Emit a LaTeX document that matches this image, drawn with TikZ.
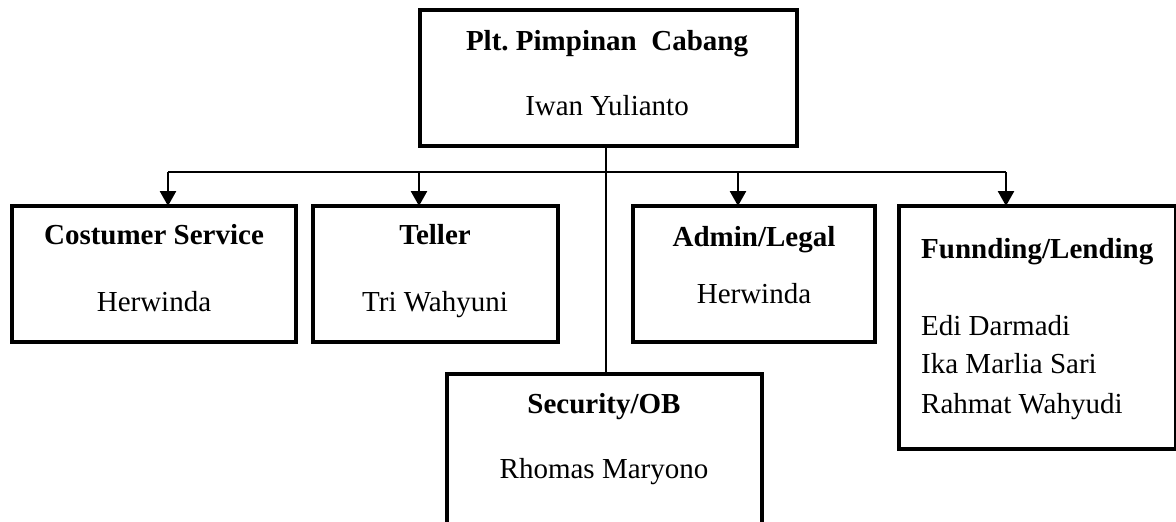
\documentclass[tikz,border=0pt]{standalone}
\usepackage{fontspec}
\setmainfont{Liberation Serif}
\usepackage{tikz}
\usetikzlibrary{arrows.meta}
\tikzstyle{unit}=[draw,rectangle,line width=3.5pt,anchor=north west,outer sep=0pt,inner sep=0pt]
\tikzstyle{ttl}=[font=\fontsize{29}{35}\selectfont\bfseries,text height=19pt,text depth=0pt,inner sep=0pt]
\tikzstyle{who}=[font=\fontsize{29}{35}\selectfont,text height=19pt,text depth=0pt,inner sep=0pt]
\tikzstyle{feed}=[-{Triangle[width=16pt,length=15pt]},line width=2.6pt]
\tikzstyle{bus}=[line width=1.3pt]

\begin{document}
\begin{tikzpicture}[x=1pt,y=-1pt]
  \clip (0,0) rectangle (1176,522);
  \fill[white] (0,0) rectangle (1176,522);
  % boxes
  \foreach \place/\boxw/\boxh/\name in {{(420,10)/377pt/136pt/pimpinan},
                                        {(12,206)/284pt/136pt/cs},
                                        {(313,206)/245pt/136pt/teller},
                                        {(633,206)/242pt/136pt/admin},
                                        {(899,206)/277pt/243pt/funding},
                                        {(447,374)/315pt/200pt/security}}
    \node[unit,minimum width=\boxw,minimum height=\boxh] (\name) at \place {};
  % titles and names
  \foreach \place/\txt/\name in {{(607,41)/Plt.\ Pimpinan~~Cabang/pimpinan-t},
                                 {(154,235)/Costumer Service/cs-t},
                                 {(435,235)/Teller/teller-t},
                                 {(754,237)/{Admin/Legal}/admin-t},
                                 {(604,404)/{Security/OB}/security-t}}
    \node[ttl] (\name) at \place {\txt};
  \foreach \place/\txt/\name in {{(607,106)/Iwan Yulianto/pimpinan-n},
                                 {(154,302)/Herwinda/cs-n},
                                 {(435,302)/Tri Wahyuni/teller-n},
                                 {(754,294)/Herwinda/admin-n},
                                 {(604,469)/Rhomas Maryono/security-n}}
    \node[who] (\name) at \place {\txt};
  \node[ttl,anchor=west] (funding-t) at (921,249) {Funnding/Lending};
  \foreach \place/\txt/\name in {{(921,326)/Edi Darmadi/funding-a},
                                 {(921,364)/Ika Marlia Sari/funding-b},
                                 {(921,404)/Rahmat Wahyudi/funding-c}}
    \node[who,anchor=west] (\name) at \place {\txt};
  % connectors
  \coordinate (stem) at (606,172);
  \foreach \x/\dest in {168/cs,419/teller,738/admin,1006/funding}{
    \coordinate (bus-\dest) at (\x,172);
    \draw[feed] (bus-\dest) -- (bus-\dest |- \dest.north);
  }
  \draw[bus] (bus-cs) -- (bus-funding);
  \draw[bus] (pimpinan.south -| stem) -- (security.north -| stem);
\end{tikzpicture}
\end{document}
